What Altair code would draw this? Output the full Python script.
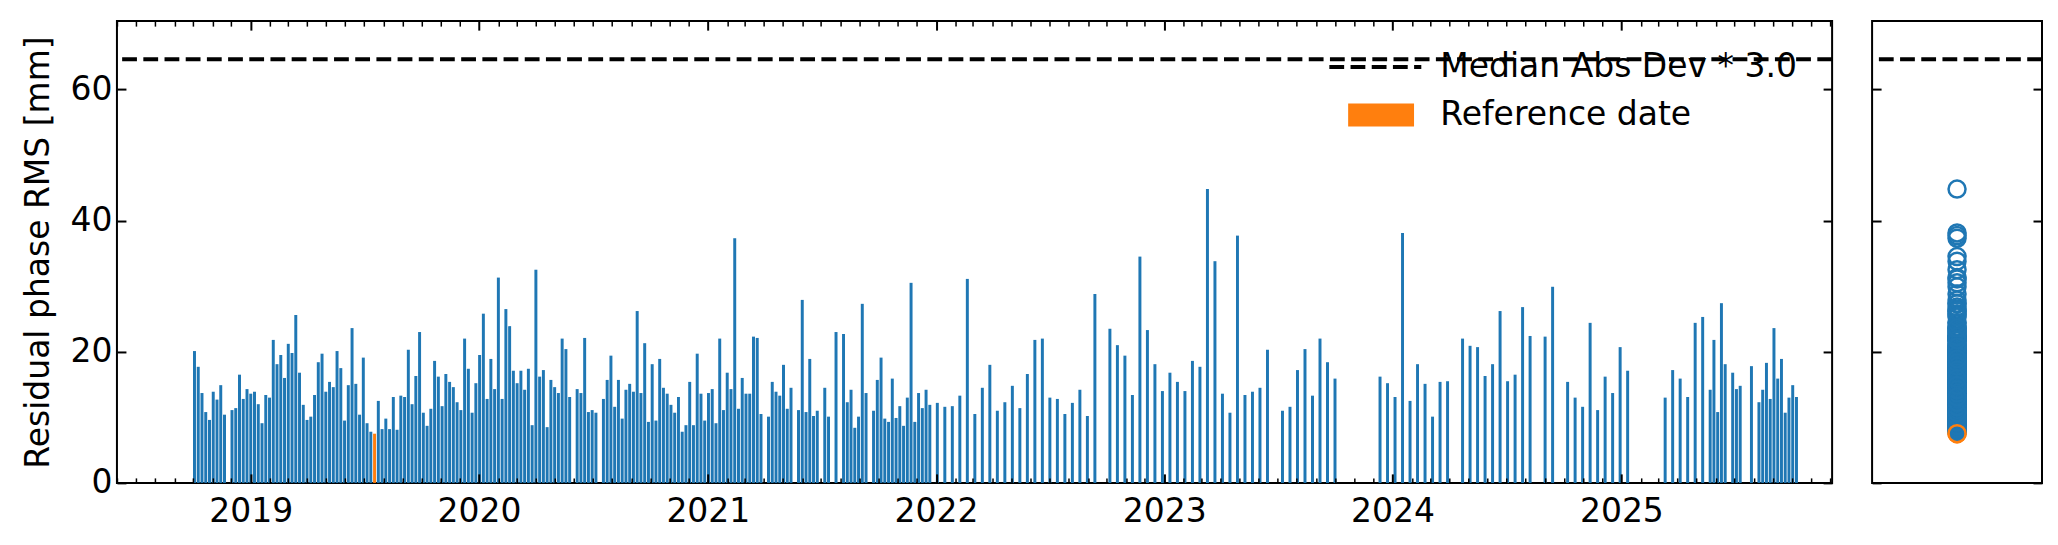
import altair as alt
import pandas as pd

# ---------------- data ----------------
# acquisition day, counted in days from 2019-01-01
acq_day = [
    -90, -84, -78, -72, -66, -60, -54, -48, -42, -30, -24, -18, -12, -6, 0, 6, 12, 18, 24, 30,
    36, 42, 48, 54, 60, 66, 72, 78, 84, 90, 96, 102, 108, 114, 120, 126, 132, 138, 144, 150,
    156, 162, 168, 174, 180, 186, 192, 198, 204, 210, 216, 222, 228, 234, 240, 246, 252, 258, 264, 270,
    276, 282, 288, 294, 300, 306, 312, 318, 324, 330, 336, 342, 348, 354, 360, 366, 372, 378, 384, 390,
    396, 402, 408, 414, 420, 426, 432, 438, 444, 450, 456, 462, 468, 474, 480, 486, 492, 498, 504, 510,
    522, 528, 534, 540, 546, 552, 564, 570, 576, 582, 588, 594, 600, 606, 612, 618, 624, 630, 636, 642,
    648, 654, 660, 666, 672, 678, 684, 690, 696, 702, 708, 714, 720, 726, 732, 738, 744, 750, 756, 762,
    768, 774, 780, 786, 792, 798, 804, 810, 816, 828, 834, 840, 846, 852, 858, 864, 876, 882, 888, 894,
    900, 906, 918, 924, 936, 948, 954, 960, 966, 972, 978, 984, 996, 1002, 1008, 1014, 1020, 1026, 1032, 1038,
    1044, 1050, 1056, 1062, 1068, 1074, 1080, 1086, 1098, 1110, 1122, 1134, 1146, 1158, 1170, 1182, 1194, 1206, 1218, 1230,
    1242, 1254, 1266, 1278, 1290, 1302, 1314, 1326, 1338, 1350, 1374, 1386, 1398, 1410, 1422, 1434, 1446, 1458, 1470, 1482,
    1494, 1506, 1518, 1530, 1542, 1554, 1566, 1578, 1590, 1602, 1614, 1626, 1650, 1662, 1674, 1686, 1698, 1710, 1722, 1734,
    1806, 1818, 1830, 1842, 1854, 1866, 1878, 1890, 1902, 1914, 1938, 1950, 1962, 1974, 1986, 1998, 2010, 2022, 2034, 2046,
    2070, 2082, 2106, 2118, 2130, 2142, 2154, 2166, 2178, 2190, 2202, 2262, 2274, 2286, 2298, 2310, 2322, 2334, 2340, 2346,
    2352, 2358, 2370, 2376, 2382, 2400, 2412, 2418, 2424, 2430, 2436, 2442, 2448, 2454, 2460, 2466, 2472,
]
rms_mm = [
    20.1, 17.7, 13.7, 10.8, 9.6, 13.9, 12.7, 14.9, 10.4, 11.1, 11.4, 16.5, 12.8, 14.3, 13.6, 13.9, 12.0, 9.1, 13.4, 13.0,
    21.8, 18.1, 19.5, 16.0, 21.2, 19.8, 25.6, 16.8, 11.9, 9.6, 10.1, 13.4, 18.4, 19.7, 13.9, 15.4, 14.6, 20.1, 17.5, 9.5,
    14.9, 23.6, 15.1, 10.4, 19.1, 9.1, 7.8, 7.5, 12.5, 8.2, 9.8, 8.2, 13.1, 8.1, 13.3, 13.1, 20.3, 12.0, 16.3, 23.0,
    10.7, 8.7, 11.3, 18.6, 16.2, 11.7, 16.6, 15.4, 14.6, 12.3, 11.1, 22.0, 17.4, 10.7, 15.2, 19.5, 25.8, 12.8, 18.9, 14.3,
    31.3, 12.8, 26.5, 23.9, 17.1, 15.2, 17.1, 14.2, 17.4, 8.8, 32.5, 16.2, 17.2, 8.5, 15.7, 14.6, 13.7, 22.0, 20.4, 13.1,
    14.3, 13.7, 22.1, 10.8, 11.1, 10.7, 12.8, 15.7, 19.4, 11.6, 15.7, 9.8, 14.2, 15.1, 13.9, 26.2, 13.7, 21.3, 9.3, 18.1,
    9.5, 18.9, 14.5, 13.6, 11.9, 10.7, 13.1, 7.8, 8.8, 15.4, 8.8, 19.7, 13.6, 9.5, 13.7, 14.3, 9.1, 22.0, 11.1, 16.8,
    14.3, 37.3, 11.3, 16.0, 13.6, 13.6, 22.3, 22.1, 10.5, 10.1, 15.4, 13.9, 13.3, 18.0, 11.3, 14.5, 11.1, 27.9, 10.8, 18.9,
    10.2, 11.0, 14.5, 10.1, 23.0, 22.7, 12.3, 14.2, 8.4, 10.1, 27.3, 13.7, 11.0, 15.7, 19.1, 9.8, 9.3, 15.9, 9.9, 11.7,
    8.7, 13.0, 30.5, 9.3, 13.7, 11.4, 14.2, 11.9, 12.2, 11.6, 11.7, 13.3, 31.1, 10.5, 14.5, 18.0, 11.0, 12.3, 14.8, 11.4,
    16.6, 21.8, 22.0, 13.0, 12.8, 10.5, 12.2, 14.2, 10.2, 28.8, 23.5, 21.0, 19.4, 13.4, 34.5, 23.3, 18.1, 14.0, 16.8, 15.4,
    14.0, 18.6, 17.7, 44.8, 33.8, 13.6, 10.7, 37.7, 13.4, 13.9, 14.5, 20.3, 11.0, 11.6, 17.2, 20.4, 13.3, 22.0, 18.4, 15.9,
    16.2, 15.2, 13.1, 38.1, 12.5, 18.1, 15.1, 10.1, 15.4, 15.5, 22.0, 20.9, 20.7, 16.3, 18.1, 26.2, 15.5, 16.5, 26.8, 22.4,
    22.3, 29.9, 15.4, 13.0, 11.6, 24.4, 11.1, 16.2, 13.7, 20.7, 17.1, 13.0, 17.2, 15.9, 13.1, 24.4, 25.3, 14.2, 21.8, 10.8,
    27.4, 18.1, 16.8, 14.3, 14.8, 17.8, 12.3, 14.2, 18.3, 12.8, 23.6, 15.9, 18.9, 10.7, 13.0, 14.9, 13.1,
]
reference_day = 198            # 2019-07-18
threshold_mm = 64.6            # Median Abs Dev * 3.0
year_ticks = [2019, 2020, 2021, 2022, 2023, 2024, 2025]
y_ticks = [0, 20, 40, 60]
legend_items = ["Median Abs Dev * 3.0", "Reference date"]
y_label = "Residual phase RMS [mm]"

BLUE = "#1f77b4"
ORANGE = "#ff7f0e"
FONT = "DejaVu Sans"
FS = 33

# ---------------- table ----------------
dates = pd.Timestamp("2019-01-01") + pd.to_timedelta(acq_day, unit="D")
half_bar = pd.Timedelta(hours=57)
fmt = "%Y-%m-%dT%H:%M:%SZ"
df = pd.DataFrame({
    "date": dates.strftime("%Y-%m-%d"),
    "start": (dates - half_bar).strftime(fmt),
    "end": (dates + half_bar).strftime(fmt),
    "rms": rms_mm,
    "kind": ["reference" if d == reference_day else "normal" for d in acq_day],
    "panel": "all",
})
ref_df = df[df["kind"] == "reference"]
thr_df = pd.DataFrame({"thr": [threshold_mm]})
leg_df = pd.DataFrame({"item": legend_items})

x_scale = alt.Scale(
    type="utc", nice=False, padding=0,
    domain=[alt.DateTime(year=2018, month=6, date=1, utc=True),
            alt.DateTime(year=2025, month=12, date=4, utc=True)],
)
y_scale = alt.Scale(domain=[0, 70.4], nice=False, zero=True, padding=0)
color_scale = alt.Scale(domain=["normal", "reference"], range=[BLUE, ORANGE])

major_vals = [alt.DateTime(year=y, month=1, date=1, utc=True) for y in year_ticks]
minor_vals = [alt.DateTime(year=d.year, month=d.month, date=1, utc=True)
              for d in pd.date_range("2018-06-01", "2025-12-01", freq="MS") if d.month != 1]


def x_axis(orient, values, size, width, labels=False):
    kw = dict(orient=orient, values=values, tickSize=size, offset=-size, tickWidth=width,
              labels=labels, domain=False, grid=False, title=None, zindex=3, tickColor="black")
    if labels:
        kw.update(format="%Y", formatType="utc", labelPadding=13, labelFontSize=FS,
                  labelFont=FONT, labelColor="black", labelFlush=False)
    return alt.Axis(**kw)


def y_axis(orient, labels=False, title=None):
    kw = dict(orient=orient, values=y_ticks, tickSize=9, offset=-9, tickWidth=2, labels=labels,
              domain=False, grid=False, zindex=3, tickColor="black")
    if labels:
        kw.update(labelPadding=5, labelFontSize=FS, labelFont=FONT, labelColor="black")
    if title:
        kw.update(title=title, titleFontSize=FS, titleFont=FONT, titleFontWeight="normal",
                  titleColor="black", titlePadding=14)
    else:
        kw.update(title=None)
    return alt.Axis(**kw)


# ---------------- main panel ----------------
bars = alt.Chart(df).mark_bar().encode(
    x=alt.X("start:T", scale=x_scale, axis=x_axis("bottom", major_vals, 9, 2, labels=True)),
    x2="end:T",
    y=alt.Y("rms:Q", scale=y_scale, axis=y_axis("left", labels=True, title=y_label)),
    y2=alt.datum(0),
    color=alt.Color("kind:N", scale=color_scale, legend=None),
)


def tick_layer(xa, ya):
    return alt.Chart(df).mark_point(opacity=0).encode(
        x=alt.X("date:T", scale=x_scale, axis=xa),
        y=alt.Y("rms:Q", scale=y_scale, axis=ya),
    )


ticks_b_minor = tick_layer(x_axis("bottom", minor_vals, 5, 1.5), y_axis("right"))
ticks_t_major = tick_layer(x_axis("top", major_vals, 9, 2), None)
ticks_t_minor = tick_layer(x_axis("top", minor_vals, 5, 1.5), None)

rule = alt.Chart(thr_df).mark_rule(color="black", strokeWidth=4, strokeDash=[14.8, 6.4]).encode(
    y=alt.Y("thr:Q", scale=y_scale, axis=None)
)

DASH_PATH = ("M-2.875,0H-1.95M-1.55,0H-0.625M-0.225,0H0.7M1.1,0H2.025M2.425,0H2.875")
RECT_PATH = "M-1.70,-0.72H2.42V0.72H-1.70Z"
legend_cfg = alt.Legend(
    title=None, orient="none", legendX=1241, legendY=28, padding=0,
    labelFontSize=FS, labelFont=FONT, labelColor="black", labelLimit=2000, labelOffset=47,
    symbolSize=1024, symbolStrokeWidth=4, rowPadding=11,
)
legend_layer = alt.Chart(leg_df).mark_point(filled=True, opacity=1, clip=True, size=1024).encode(
    x=alt.value(-3000), y=alt.value(-3000),
    shape=alt.Shape("item:N", scale=alt.Scale(domain=legend_items, range=[DASH_PATH, RECT_PATH]),
                    legend=legend_cfg),
    fill=alt.Fill("item:N", scale=alt.Scale(domain=legend_items, range=["transparent", ORANGE]),
                  legend=legend_cfg),
    stroke=alt.Stroke("item:N", scale=alt.Scale(domain=legend_items, range=["black", "transparent"]),
                      legend=legend_cfg),
)

main = alt.layer(
    bars, ticks_b_minor, ticks_t_major, ticks_t_minor, rule, legend_layer
).resolve_axis(x="independent", y="independent").properties(width=1716, height=462)

# ---------------- side panel ----------------
x_side = alt.X("panel:N", axis=None, scale=alt.Scale(type="point"))
side_pts = alt.Chart(df).mark_point(shape="circle", filled=False, size=289, strokeWidth=2.5,
                                    opacity=1).encode(
    x=x_side,
    y=alt.Y("rms:Q", scale=y_scale, axis=y_axis("left")),
    color=alt.Color("kind:N", scale=color_scale, legend=None),
)
side_ref = alt.Chart(ref_df).mark_point(shape="circle", filled=False, size=289, strokeWidth=2.5,
                                        opacity=1).encode(
    x=x_side,
    y=alt.Y("rms:Q", scale=y_scale, axis=y_axis("right")),
    color=alt.Color("kind:N", scale=color_scale, legend=None),
)
side_rule = alt.Chart(thr_df).mark_rule(color="black", strokeWidth=4, strokeDash=[14.8, 6.4]).encode(
    y=alt.Y("thr:Q", scale=y_scale, axis=None)
)
side = alt.layer(side_rule, side_pts, side_ref).resolve_axis(y="independent").properties(
    width=170, height=462)

chart = alt.hconcat(main, side, spacing=34).properties(
    padding={"left": 14, "top": 11, "right": 5, "bottom": 5}
).configure_view(stroke="black", strokeWidth=2).configure_axis(
    labelFont=FONT, titleFont=FONT
)

chart.save("out.html", embed_options={"renderer": "svg", "actions": False})
